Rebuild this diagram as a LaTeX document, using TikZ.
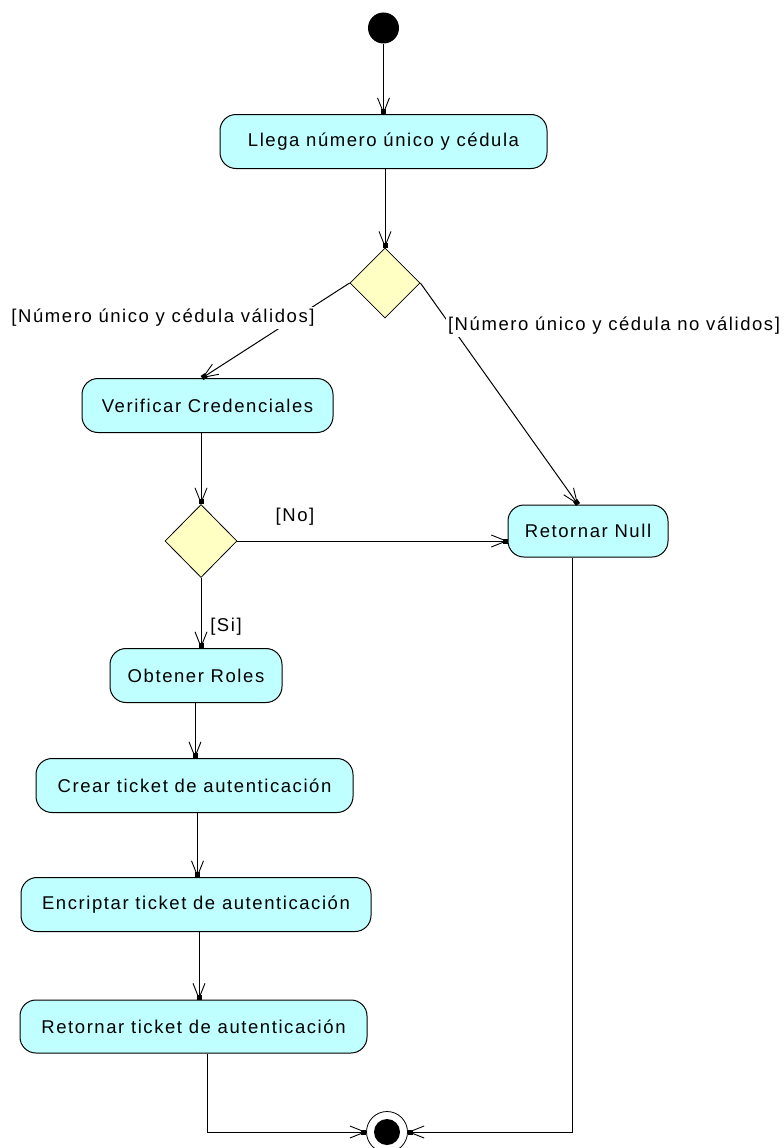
\documentclass[tikz,border=0pt]{standalone}
\usepackage{fontspec}
\setmainfont{Liberation Sans}[LetterSpace=8.5]
\usetikzlibrary{arrows.meta,shapes.geometric}
\definecolor{actfill}{RGB}{192,255,255}
\definecolor{decfill}{RGB}{255,255,196}
\begin{document}
\begin{tikzpicture}[x=1pt,y=-1pt,
  every node/.style={font=\fontsize{18.5}{21}\selectfont},
  action/.style={draw, fill=actfill, rounded corners=16pt, line width=1pt,
    minimum height=54pt, inner sep=0pt},
  decision/.style={diamond, draw, fill=decfill, line width=0.8pt, inner sep=0pt,
    minimum width=70pt, minimum height=70pt},
  guard/.style={inner sep=2pt},
  flow/.style={line width=1pt,
    -{Straight Barb[length=15pt,width=12pt,line width=0.9pt,sep=-5pt]Square[length=5pt,width=5pt]}},
]
\useasboundingbox (0,0) rectangle (784,1148);

% initial and final states
\node[circle, fill=black, minimum size=31pt, inner sep=0pt] (start) at (383.5,28) {};
\node[circle, draw, line width=0.8pt, minimum size=41pt, inner sep=0pt,
  path picture={\fill[black] (path picture bounding box.center) circle (13pt);}] (fin) at (387,1132) {};

% activities
\node[action, minimum width=327pt] (llega) at (383.5,141.5) {Llega número único y cédula};
\node[action, minimum width=251pt] (verif) at (207.5,405.5) {Verificar Credenciales};
\node[action, minimum width=160pt, minimum height=52pt] (rnull) at (588,531) {Retornar Null};
\node[action, minimum width=172pt] (obt) at (196,675.5) {Obtener Roles};
\node[action, minimum width=317pt] (crear) at (194.5,785.5) {Crear ticket de autenticación};
\node[action, minimum width=350pt] (encr) at (196,904.5) {Encriptar ticket de autenticación};
\node[action, minimum width=347pt, minimum height=53pt] (rtick) at (193.5,1026.5) {Retornar ticket de autenticación};

% decisions
\node[decision] (d1) at (385,283) {};
\node[decision, minimum width=72pt, minimum height=73pt] (d2) at (201,541) {};

% transitions
\draw[flow] (start) -- (llega);
\draw[flow] (llega.south -| d1.north) -- (d1.north);
\draw[flow] (d1.west) -- ([xshift=-5.5pt]verif.north);
\node[guard, fill=white] (gok) at (163,318) {[Número único y cédula válidos]};
\draw[flow] (d1.east) -- ([xshift=-10pt]rnull.north);
\node[guard, fill=white] (gbad) at (614,326) {[Número único y cédula no válidos]};
\draw[flow] (verif.south -| d2.north) -- (d2.north);
\draw[flow] (d2.east) -- (d2.east -| rnull.west);
\node[guard] (gno) at (295,517) {[No]};
\draw[flow] (d2.south) -- (d2.south |- obt.north);
\node[guard] (gsi) at (226,627) {[Si]};
\draw[flow] ([xshift=-1pt]obt.south) -- ([xshift=-1pt]obt.south |- crear.north);
\draw[flow] ([xshift=3pt]crear.south) -- ([xshift=3pt]crear.south |- encr.north);
\draw[flow] ([xshift=3pt]encr.south) -- ([xshift=3pt]encr.south |- rtick.north);
\draw[flow] ([xshift=13.5pt]rtick.south) |- (fin.west);
\draw[flow] ([xshift=-16pt]rnull.south) |- (fin.east);
\end{tikzpicture}
\end{document}
